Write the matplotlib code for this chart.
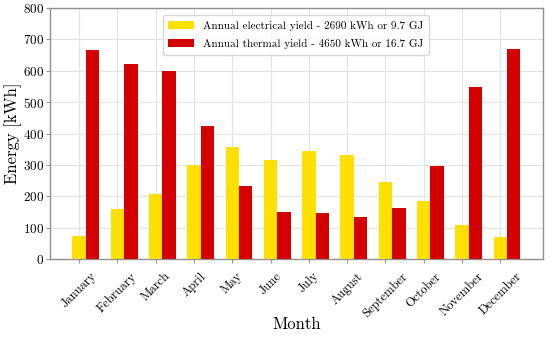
import matplotlib
matplotlib.use("Agg")
import matplotlib.pyplot as plt
import numpy as np

months = ["January", "February", "March", "April", "May", "June", "July",
          "August", "September", "October", "November", "December"]
electrical = [73, 158, 206, 300, 357, 316, 345, 331, 245, 184, 108, 70]
thermal = [665, 622, 598, 425, 232, 149, 148, 134, 163, 297, 547, 669]
label_el = "Annual electrical yield - 2690 kWh or 9.7 GJ"
label_th = "Annual thermal yield - 4650 kWh or 16.7 GJ"

plt.rcParams['font.family'] = ['cmr10', 'DejaVu Serif']
plt.rcParams['axes.unicode_minus'] = False
plt.rcParams['axes.formatter.use_mathtext'] = True

fig = plt.figure(figsize=(5.5, 3.39), dpi=100)
ax = fig.add_axes([0.091, 0.236, 0.896, 0.740])

x = np.arange(len(months))
w = 0.35
ax.bar(x, electrical, w, color="#FFE000", label=label_el, zorder=3)
ax.bar(x + w, thermal, w, color="#D40000", label=label_th, zorder=3)

ax.set_ylim(0, 800)
ax.set_yticks(np.arange(0, 801, 100))
ax.set_xticks(x)
ax.set_xticklabels(months, rotation=45, ha="center")
ax.tick_params(axis="both", color="#999999", length=3, width=0.8)
ax.tick_params(axis="y", labelsize=9.5, pad=1.5)
ax.tick_params(axis="x", labelsize=9, pad=5)
ax.grid(True, color="#e3e3e3", linewidth=0.8, zorder=0)
for s in ax.spines.values():
    s.set_color("#909090")
    s.set_linewidth(1.0)

ax.set_xlabel("Month", fontsize=12)
ax.set_ylabel("Energy [kWh]", fontsize=12)
ax.xaxis.set_label_coords(0.5, -0.228)
ax.yaxis.set_label_coords(-0.057, 0.5)

leg = ax.legend(loc="upper left", bbox_to_anchor=(0.229, 0.972), borderaxespad=0,
                fontsize=8, frameon=True, fancybox=True, edgecolor="#cccccc",
                labelspacing=0.75, handlelength=2.3, borderpad=0.5)
fig.savefig("out.png", dpi=100)
